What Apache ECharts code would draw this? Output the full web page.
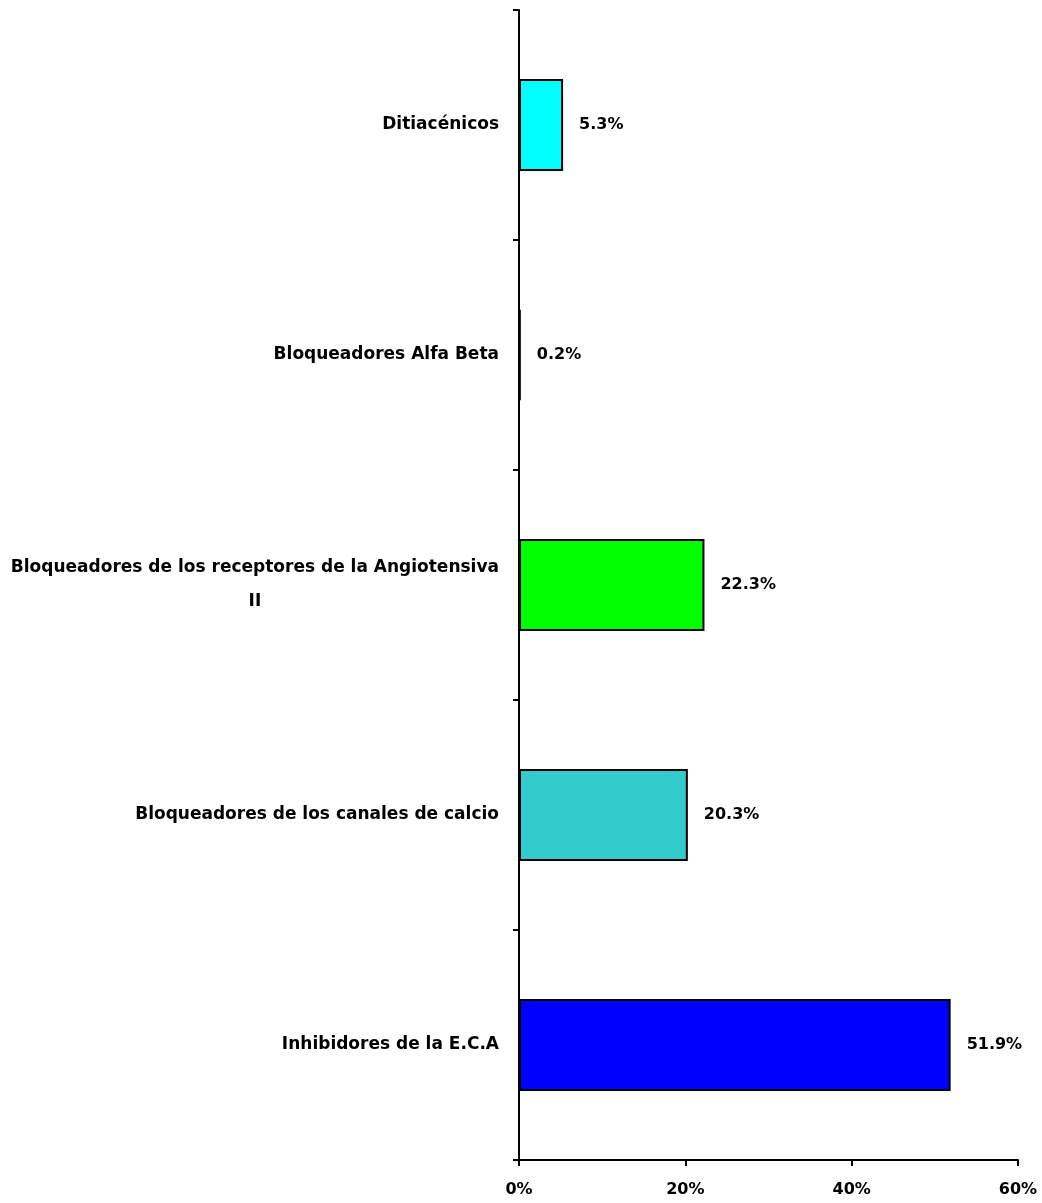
<!DOCTYPE html>
<html>
<head>
<meta charset="utf-8">
<script src="https://cdn.jsdelivr.net/npm/echarts@6/dist/echarts.min.js"></script>
<style>
  html, body { margin: 0; padding: 0; background: #fff; }
  #chart { width: 1042px; height: 1203px; }
</style>
</head>
<body>
<div id="chart"></div>
<script>
// categorias de arriba hacia abajo
const categorias = [
    'Ditiacénicos',
    'Bloqueadores Alfa Beta',
    'Bloqueadores de los receptores de la Angiotensiva II',
    'Bloqueadores de los canales de calcio',
    'Inhibidores de la E.C.A'
];
// porcentajes
const valores = [5.3, 0.2, 22.3, 20.3, 51.9];
const colores = ['#00FFFF', '#000000', '#00FF00', '#33CCCC', '#0000FF'];
const ticksX = [0, 20, 40, 60];

const fuente = '"DejaVu Sans", Verdana, sans-serif';

const myChart = echarts.init(document.getElementById('chart'));
let option = {
    animation: false,
    grid: { left: 519, right: 24, top: 10, bottom: 43, containLabel: false },
    xAxis: {
        type: 'value',
        min: ticksX[0],
        max: ticksX[ticksX.length - 1],
        interval: 20,
        axisLine: { show: true, lineStyle: { color: '#000', width: 2 } },
        axisTick: { show: true, length: 6, lineStyle: { color: '#000', width: 2 } },
        splitLine: { show: false },
        axisLabel: {
            color: '#000', fontWeight: 'bold', fontSize: 16, fontFamily: fuente,
            margin: 22,
            formatter: v => v + '%'
        }
    },
    yAxis: {
        type: 'category',
        inverse: true,
        data: categorias,
        axisLine: { show: true, lineStyle: { color: '#000', width: 2 } },
        axisTick: { show: true, length: 6, lineStyle: { color: '#000', width: 2 } },
        axisLabel: {
            color: '#000', fontWeight: 'bold', fontSize: 17, fontFamily: fuente,
            margin: 20,
            formatter: function (v) {
                // la etiqueta larga va en dos lineas, la segunda centrada
                if (v.endsWith(' II')) {
                    return '{c|' + v.slice(0, -3) + '}\n{c|II}';
                }
                return v;
            },
            rich: {
                c: { align: 'center', fontWeight: 'bold', fontSize: 17, fontFamily: fuente, color: '#000', lineHeight: 34 }
            }
        }
    },
    series: [{
        type: 'bar',
        barWidth: 92,
        data: valores.map((v, i) => ({
            value: v,
            itemStyle: { color: colores[i], borderColor: '#000', borderWidth: 2 }
        })),
        label: {
            show: true,
            position: 'right',
            distance: 16,
            color: '#000', fontWeight: 'bold', fontSize: 16, fontFamily: fuente,
            formatter: p => p.value.toFixed(1) + '%'
        }
    }]
};
myChart.setOption(option);
</script>
</body>
</html>
